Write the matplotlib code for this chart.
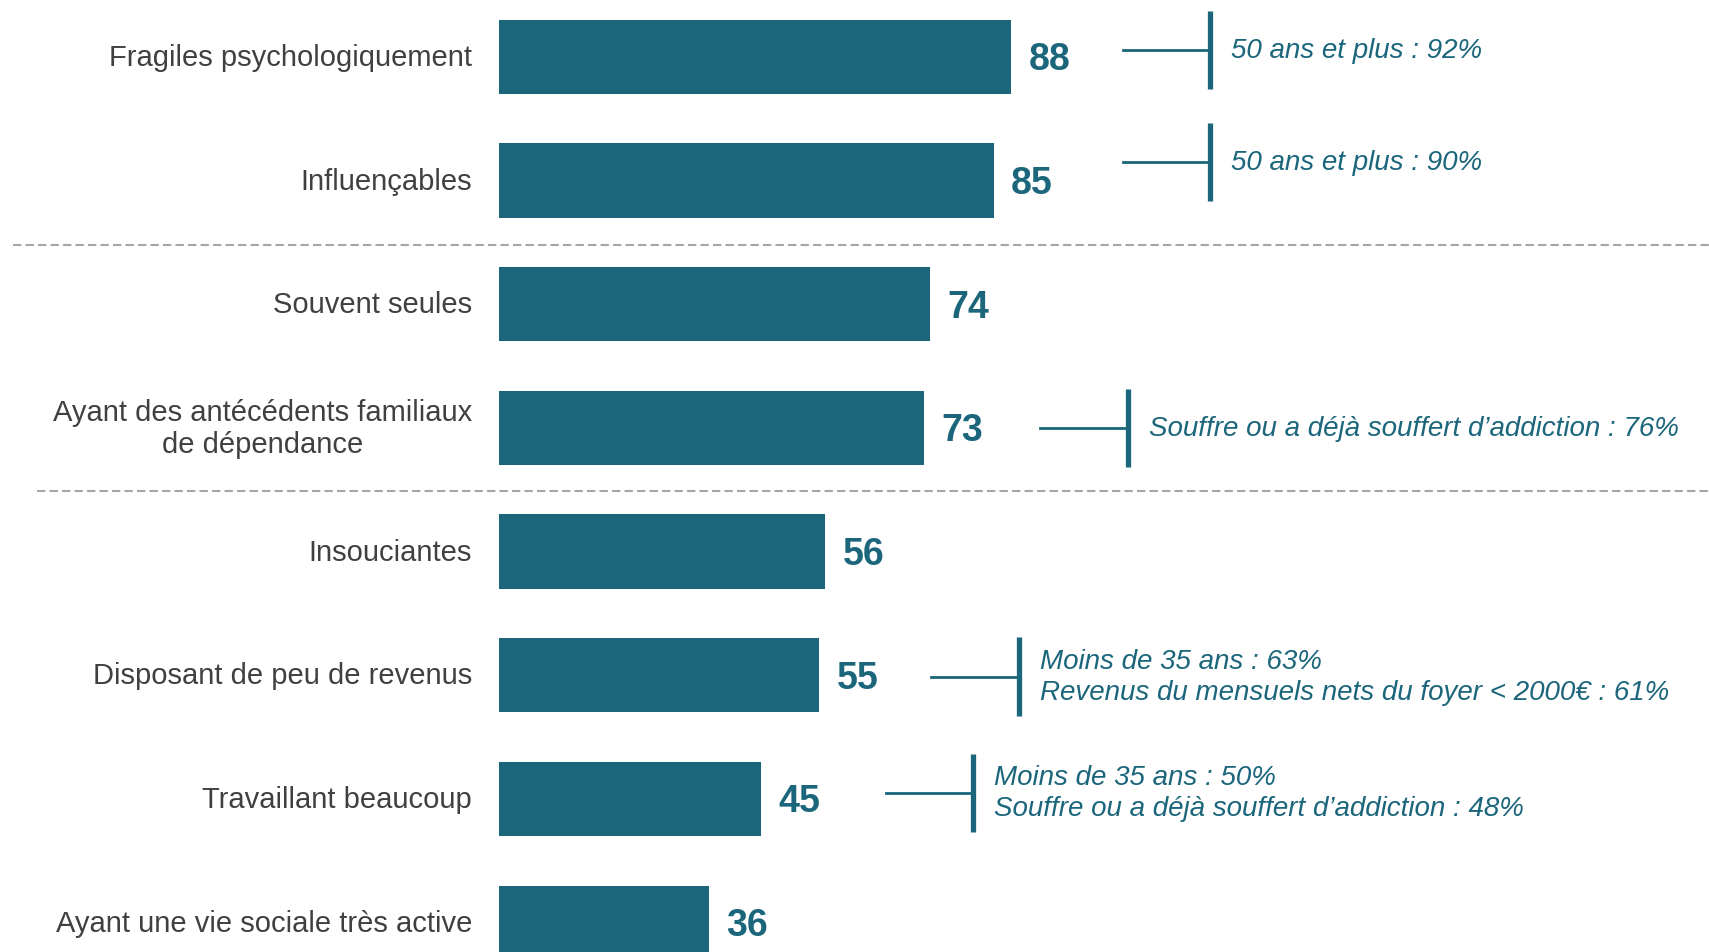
import numpy as np
import matplotlib.pyplot as plt
from matplotlib import font_manager

# data
categories = ["Fragiles psychologiquement", "Influençables", "Souvent seules",
              "Ayant des antécédents familiaux\nde dépendance", "Insouciantes",
              "Disposant de peu de revenus", "Travaillant beaucoup",
              "Ayant une vie sociale très active"]
values = [88, 85, 74, 73, 56, 55, 45, 36]

# side notes: bar index -> text
note_rows = [0, 1, 3, 5, 6]
note_texts = ["50 ans et plus : 92%",
              "50 ans et plus : 90%",
              "Souffre ou a déjà souffert d\u2019addiction : 76%",
              "Moins de 35 ans : 63%\nRevenus du mensuels nets du foyer < 2000\u20ac : 61%",
              "Moins de 35 ans : 50%\nSouffre ou a déjà souffert d\u2019addiction : 48%"]
note_groups = [0, 0, 1, 2, 3]          # notes sharing one connector x
note_gap = [19.2, 19.2, 20, 19.3, 21.5]
note_dy = [-0.055, -0.15, 0.0, 0.01, -0.05]

separators = [1.525, 3.51]

teal = "#1C667C"
grey_txt = "#404040"

names = {f.name for f in font_manager.fontManager.ttflist}
if "Liberation Sans Narrow" in names:
    fam = ["Liberation Sans Narrow", "Liberation Sans", "DejaVu Sans"]
    label_fs, value_fs, note_fs = 25.5, 30, 23.5
else:
    fam = ["Liberation Sans", "DejaVu Sans"]
    label_fs, value_fs, note_fs = 21, 27, 20
plt.rcParams["font.family"] = fam

fig = plt.figure(figsize=(17.09, 9.53), dpi=100)
ax = fig.add_axes([499 / 1709, 0, 1 - 499 / 1709, 1])

y = np.arange(len(values))
ax.barh(y, values, height=0.6, color=teal)
ax.set_xlim(0, 1210 / 5.82)
ax.set_ylim(7.237, -0.4675)

ax.set_yticks(y, categories)
ax.tick_params(axis="y", length=0, pad=19.5, labelsize=label_fs, labelcolor=grey_txt)
for lab in ax.get_yticklabels():
    lab.set_multialignment("center")
    lab.set_linespacing(1.2)
    lab.set_verticalalignment("center")
ax.set_xticks([])
for s in ax.spines.values():
    s.set_visible(False)

# value labels
for i, v in enumerate(values):
    ax.text(v + 3.0, i + 0.02, str(v), va="center", ha="left",
            fontsize=value_fs, fontweight="bold", color=teal)

# dashed separators
ax.axhline(separators[0], xmin=-0.4017, xmax=1, color="#A6A6A6", lw=1.5,
           ls=(0, (4, 2)), clip_on=False)
ax.axhline(separators[1], xmin=-0.382, xmax=1, color="#A6A6A6", lw=1.5,
           ls=(0, (4, 2)), clip_on=False)

# side notes with connectors
for k, (r, txt) in enumerate(zip(note_rows, note_texts)):
    g = note_groups[k]
    grp_vals = [values[note_rows[j]] for j in range(len(note_rows)) if note_groups[j] == g]
    x0 = max(grp_vals) + note_gap[k]
    x1 = x0 + 15
    yc = r + note_dy[k]
    ax.plot([x0, x1], [yc, yc], color=teal, lw=2)
    ax.plot([x1, x1], [yc - 0.317, yc + 0.317], color=teal, lw=3.8,
            solid_capstyle="butt")
    ax.text(x1 + 3.6, yc, txt, va="center", ha="left", fontsize=note_fs,
            style="italic", color=teal, linespacing=1.25)

fig.savefig("out.png", dpi=100)
